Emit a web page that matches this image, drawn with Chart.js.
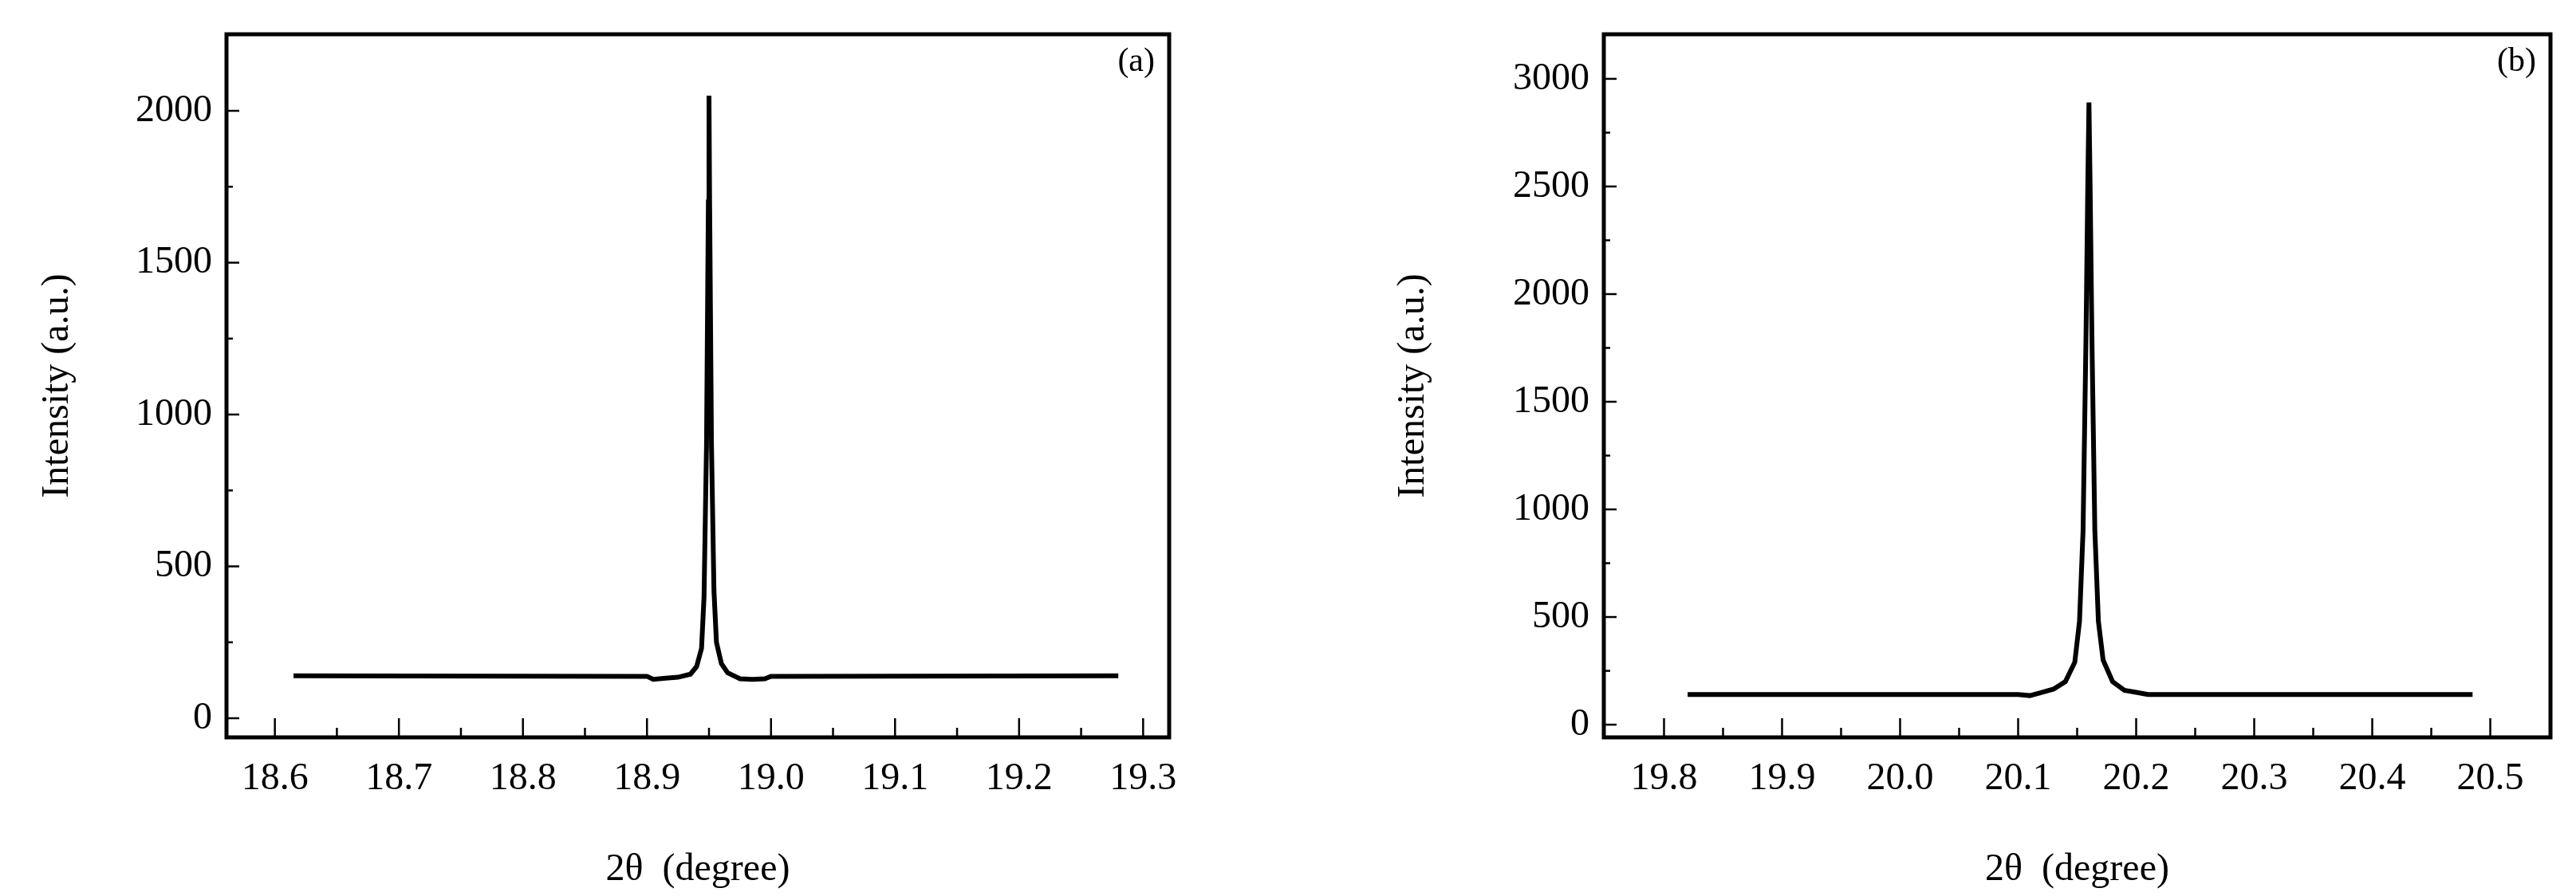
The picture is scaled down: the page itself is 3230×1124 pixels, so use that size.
<!DOCTYPE html>
<html>
<head>
<meta charset="utf-8">
<script src="https://cdn.jsdelivr.net/npm/chart.js@4.4.4/dist/chart.umd.min.js"></script>
<style>
  body { margin: 0; background: #fff; width: 3230px; height: 1124px; position: relative; overflow: hidden; }
  .panel { position: absolute; top: 0; height: 1124px; }
</style>
</head>
<body>
<div class="panel" style="left:0;width:1500px"><canvas id="chartA"></canvas></div>
<div class="panel" style="left:1700px;width:1530px"><canvas id="chartB"></canvas></div>
<script>
// panel (a)
const aX = [18.615, 18.9, 18.905, 18.915, 18.925, 18.935, 18.94, 18.944, 18.946, 18.948, 18.9495, 18.95, 18.9505, 18.952, 18.954, 18.956, 18.96, 18.965, 18.975, 18.985, 18.995, 19.0, 19.28];
const aY = [140, 138, 128, 132, 135, 145, 170, 230, 400, 900, 1700, 2050, 1700, 900, 420, 250, 180, 150, 130, 128, 130, 138, 140];
const aXTicks = [18.6, 18.7, 18.8, 18.9, 19.0, 19.1, 19.2, 19.3];
const aYTicks = [0, 500, 1000, 1500, 2000];

// panel (b)
const bX = [19.82, 20.10, 20.11, 20.12, 20.13, 20.14, 20.148, 20.152, 20.155, 20.1575, 20.159, 20.16, 20.161, 20.1625, 20.165, 20.168, 20.172, 20.18, 20.19, 20.2, 20.21, 20.485];
const bY = [140, 140, 135, 150, 165, 200, 290, 480, 900, 1800, 2500, 2890, 2500, 1800, 900, 480, 300, 200, 160, 150, 140, 140];
const bXTicks = [19.8, 19.9, 20.0, 20.1, 20.2, 20.3, 20.4, 20.5];
const bYTicks = [0, 500, 1000, 1500, 2000, 2500, 3000];

Chart.defaults.font.family = "'Liberation Serif', serif";
Chart.defaults.color = '#000';

// frame, inside ticks and panel letter
const framePlugin = {
  id: 'frame',
  afterDraw(chart, args, opts) {
    const { ctx, chartArea: a, scales } = chart;
    ctx.save();
    ctx.strokeStyle = '#000';
    ctx.lineWidth = 2.5;
    const xt = opts.xTicks, yt = opts.yTicks;
    const dx = (xt[1] - xt[0]) / 2, dy = (yt[1] - yt[0]) / 2;
    for (let v = xt[0]; v <= xt[xt.length - 1] + 1e-9; v += dx) {
      const px = scales.x.getPixelForValue(v);
      const major = Math.abs(Math.round(v / (2 * dx)) * 2 * dx - v) < 1e-6;
      ctx.beginPath(); ctx.moveTo(px, a.bottom); ctx.lineTo(px, a.bottom - (major ? 24 : 12)); ctx.stroke();
    }
    for (let v = yt[0]; v <= yt[yt.length - 1] + dy + 1e-9; v += dy) {
      const py = scales.y.getPixelForValue(v);
      if (py < a.top) break;
      const major = Math.round(v / dy) % 2 === 0;
      ctx.beginPath(); ctx.moveTo(a.left, py); ctx.lineTo(a.left + (major ? 16 : 8), py); ctx.stroke();
    }
    ctx.lineWidth = 5;
    ctx.strokeRect(a.left, a.top, a.right - a.left, a.bottom - a.top);
    ctx.font = "42px 'Liberation Serif'";
    ctx.fillStyle = '#000';
    ctx.textAlign = 'right';
    ctx.textBaseline = 'top';
    ctx.fillText(opts.letter, a.right - 18, a.top + 14);
    ctx.restore();
  }
};

function makeChart(el, xs, ys, xTicks, yTicks, xr, yr, yw, padR, letter) {
  const pts = xs.map((x, i) => ({ x, y: ys[i] }));
  return new Chart(el, {
    type: 'line',
    data: { datasets: [{ data: pts, borderColor: '#000', borderWidth: 6, pointRadius: 0, tension: 0 }] },
    options: {
      responsive: false, animation: false, devicePixelRatio: 1,
      layout: { padding: { top: 43, right: padR, left: 40, bottom: 0 } },
      plugins: { legend: { display: false }, tooltip: { enabled: false }, frame: { xTicks, yTicks, letter } },
      scales: {
        x: {
          type: 'linear', min: xr[0], max: xr[1],
          afterBuildTicks: s => { s.ticks = xTicks.map(v => ({ value: v })); },
          afterFit: s => { s.height = 199; },
          grid: { display: false }, border: { display: false },
          ticks: { font: { size: 48 }, padding: 16, callback: v => v.toFixed(1) },
          title: { display: true, text: '2θ  (degree)', font: { size: 48 }, padding: { top: 26 } }
        },
        y: {
          min: yr[0], max: yr[1],
          afterBuildTicks: s => { s.ticks = yTicks.map(v => ({ value: v })); },
          afterFit: s => { s.width = yw - 40; },
          grid: { display: false }, border: { display: false },
          ticks: { font: { size: 48 }, padding: 10, callback: v => String(v) },
          title: { display: true, text: 'Intensity (a.u.)', font: { size: 48 }, padding: { bottom: 20 } }
        }
      }
    },
    plugins: [framePlugin]
  });
}

const ca = document.getElementById('chartA'); ca.width = 1500; ca.height = 1124;
const cb = document.getElementById('chartB'); cb.width = 1530; cb.height = 1124;
makeChart(ca, aX, aY, aXTicks, aYTicks, [18.561, 19.321], [-63, 2252], 284, 34, '(a)');
makeChart(cb, bX, bY, bXTicks, bYTicks, [19.749, 20.551], [-59, 3207], 311, 32, '(b)');
</script>
</body>
</html>
